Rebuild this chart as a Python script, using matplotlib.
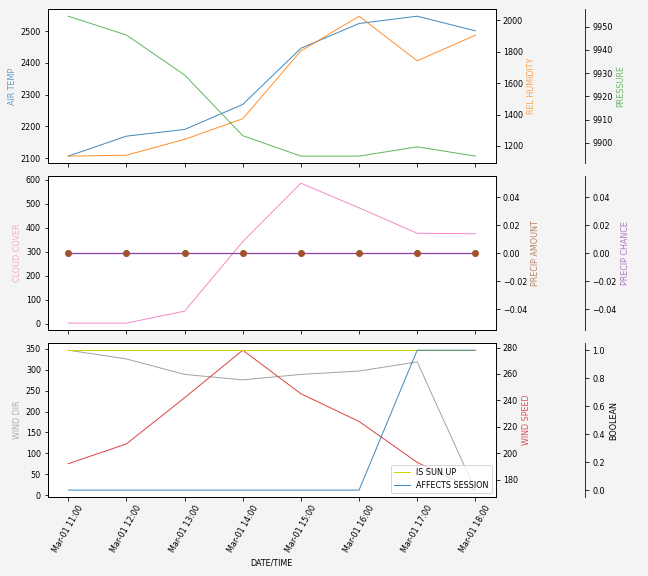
import pandas as pd
import numpy as np
import matplotlib
matplotlib.use('Agg')
import matplotlib.pyplot as plt
import matplotlib.dates as mdates

plt.rcParams['font.size'] = 8

# hourly weather samples
times = pd.date_range('2023-03-01 11:00', periods=8, freq='h')
air_temp = [2106, 2169, 2190, 2269, 2446, 2524, 2547, 2501]
rel_humidity = [1135, 1141, 1242, 1373, 1805, 2026, 1742, 1905]
pressure = [9954.5, 9946.4, 9929.2, 9903.1, 9894.3, 9894.3, 9898.3, 9894.3]
cloud_cover = [2, 2, 52, 342, 586, 483, 377, 375]
precip_amount = [0, 0, 0, 0, 0, 0, 0, 0]
precip_chance = [0, 0, 0, 0, 0, 0, 0, 0]
wind_dir = [347, 326, 289, 276, 289, 297, 319, 12]
wind_speed = [192, 207, 242, 278, 245, 224, 193, 172]
is_sun_up = [1, 1, 1, 1, 1, 1, 1, 1]
affects_session = [0, 0, 0, 0, 0, 0, 1, 1]

fig, axes = plt.subplots(3, 1, figsize=(9, 8), dpi=72, sharex=True)
fig.patch.set_facecolor('#f4f4f4')
fig.subplots_adjust(left=0.074, right=0.765, top=0.984, bottom=0.137, hspace=0.085)


def add_panel(ax, series):
    # series: list of (values, label, color, kwargs)
    twins = [ax, ax.twinx(), ax.twinx()]
    twins[2].spines['right'].set_position(('axes', 1.2))
    for a in twins[1:]:
        a.patch.set_visible(False)
    for a, (vals, label, color, kw) in zip(twins, series):
        kw = {'lw': 1, **kw}
        a.plot(times, vals, color=color, **kw)
        a.set_ylabel(label, color=color, alpha=0.7)
    return twins


top = add_panel(axes[0], [
    (air_temp, 'AIR TEMP', 'tab:blue', {'alpha': 0.85}),
    (rel_humidity, 'REL HUMIDITY', 'tab:orange', {'alpha': 0.85}),
    (pressure, 'PRESSURE', 'tab:green', {'alpha': 0.75}),
])

mid = add_panel(axes[1], [
    (cloud_cover, 'CLOUD COVER', '#f48cc8', {}),
    (precip_amount, 'PRECIP AMOUNT', 'sienna', {'marker': 'o', 'ms': 6, 'ls': 'none'}),
    (precip_chance, 'PRECIP CHANCE', '#8e44ad', {'lw': 1.3}),
])
# dots sit above the chance line
mid[1].set_zorder(mid[2].get_zorder() + 1)

bot = [axes[2], axes[2].twinx(), axes[2].twinx()]
bot[2].spines['right'].set_position(('axes', 1.2))
bot[0].plot(times, wind_dir, color='tab:gray', lw=1, alpha=0.7)
bot[0].set_ylabel('WIND DIR', color='tab:gray', alpha=0.6)
bot[1].plot(times, wind_speed, color='tab:red', lw=1, alpha=0.85)
bot[1].set_ylabel('WIND SPEED', color='tab:red', alpha=0.8)
bot[2].plot(times, is_sun_up, color='#d4d400', lw=1, label='IS SUN UP')
bot[2].plot(times, affects_session, color='tab:blue', lw=1, alpha=0.85, label='AFFECTS SESSION')
bot[2].set_ylabel('BOOLEAN')
bot[2].legend(loc='lower right')

axes[2].xaxis.set_major_formatter(mdates.DateFormatter('%b-%d %H:%M'))
axes[2].set_xticks(times)
plt.setp(axes[2].get_xticklabels(), rotation=60)
axes[2].set_xlabel('DATE/TIME')

plt.savefig('out.png', dpi=72, facecolor=fig.get_facecolor())
